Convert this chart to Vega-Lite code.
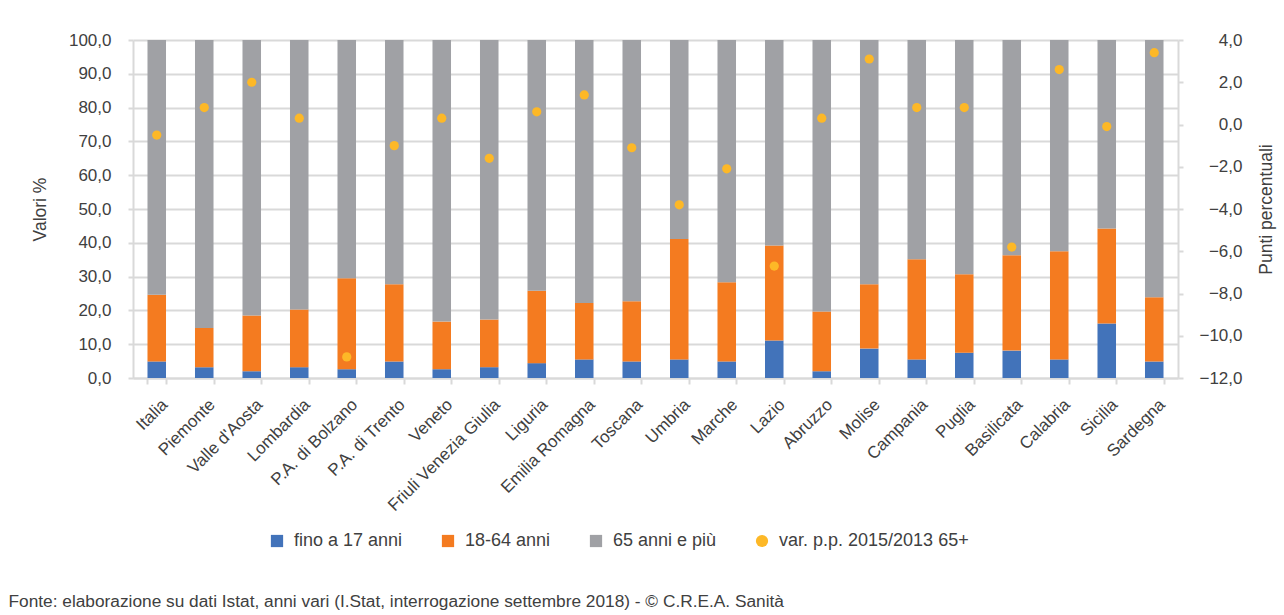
{
  "$schema": "https://vega.github.io/schema/vega-lite/v6.json",
  "width": 1045,
  "height": 338,
  "autosize": {"type": "none"},
  "padding": {"left": 133, "top": 40, "right": 106, "bottom": 237},
  "background": "white",
  "config": {
    "locale": {"number": {"decimal": ",", "thousands": ".", "grouping": [3], "currency": ["€", ""]}},
    "font": "Liberation Sans",
    "view": {"stroke": null},
    "axis": {
      "labelFont": "Liberation Sans",
      "titleFont": "Liberation Sans",
      "labelColor": "#404040",
      "titleColor": "#404040",
      "titleFontWeight": "normal",
      "domainColor": "#D9D9D9",
      "domainWidth": 2,
      "tickColor": "#D9D9D9",
      "tickWidth": 2,
      "gridColor": "#D9D9D9",
      "gridWidth": 2
    },
    "legend": {
      "orient": "none",
      "legendX": 135,
      "legendY": 492,
      "direction": "horizontal",
      "labelFont": "Liberation Sans",
      "labelFontSize": 18,
      "labelColor": "#404040",
      "labelLimit": 300,
      "symbolSize": 150,
      "symbolStrokeWidth": 0,
      "symbolOpacity": 1,
      "columnPadding": 36,
      "labelOffset": 8
    }
  },
  "datasets": {
    "fasce": [
      {"regione": "Italia", "serie": "fino a 17 anni", "ordine": 1, "valore": 4.9},
      {"regione": "Italia", "serie": "18-64 anni", "ordine": 2, "valore": 19.7},
      {"regione": "Italia", "serie": "65 anni e più", "ordine": 3, "valore": 75.4},
      {"regione": "Piemonte", "serie": "fino a 17 anni", "ordine": 1, "valore": 3.2},
      {"regione": "Piemonte", "serie": "18-64 anni", "ordine": 2, "valore": 11.6},
      {"regione": "Piemonte", "serie": "65 anni e più", "ordine": 3, "valore": 85.2},
      {"regione": "Valle d'Aosta", "serie": "fino a 17 anni", "ordine": 1, "valore": 2.0},
      {"regione": "Valle d'Aosta", "serie": "18-64 anni", "ordine": 2, "valore": 16.5},
      {"regione": "Valle d'Aosta", "serie": "65 anni e più", "ordine": 3, "valore": 81.5},
      {"regione": "Lombardia", "serie": "fino a 17 anni", "ordine": 1, "valore": 3.2},
      {"regione": "Lombardia", "serie": "18-64 anni", "ordine": 2, "valore": 17.1},
      {"regione": "Lombardia", "serie": "65 anni e più", "ordine": 3, "valore": 79.7},
      {"regione": "P.A. di Bolzano", "serie": "fino a 17 anni", "ordine": 1, "valore": 2.6},
      {"regione": "P.A. di Bolzano", "serie": "18-64 anni", "ordine": 2, "valore": 26.9},
      {"regione": "P.A. di Bolzano", "serie": "65 anni e più", "ordine": 3, "valore": 70.5},
      {"regione": "P.A. di Trento", "serie": "fino a 17 anni", "ordine": 1, "valore": 4.9},
      {"regione": "P.A. di Trento", "serie": "18-64 anni", "ordine": 2, "valore": 22.8},
      {"regione": "P.A. di Trento", "serie": "65 anni e più", "ordine": 3, "valore": 72.3},
      {"regione": "Veneto", "serie": "fino a 17 anni", "ordine": 1, "valore": 2.6},
      {"regione": "Veneto", "serie": "18-64 anni", "ordine": 2, "valore": 14.1},
      {"regione": "Veneto", "serie": "65 anni e più", "ordine": 3, "valore": 83.3},
      {"regione": "Friuli Venezia Giulia", "serie": "fino a 17 anni", "ordine": 1, "valore": 3.2},
      {"regione": "Friuli Venezia Giulia", "serie": "18-64 anni", "ordine": 2, "valore": 14.1},
      {"regione": "Friuli Venezia Giulia", "serie": "65 anni e più", "ordine": 3, "valore": 82.7},
      {"regione": "Liguria", "serie": "fino a 17 anni", "ordine": 1, "valore": 4.4},
      {"regione": "Liguria", "serie": "18-64 anni", "ordine": 2, "valore": 21.4},
      {"regione": "Liguria", "serie": "65 anni e più", "ordine": 3, "valore": 74.2},
      {"regione": "Emilia Romagna", "serie": "fino a 17 anni", "ordine": 1, "valore": 5.5},
      {"regione": "Emilia Romagna", "serie": "18-64 anni", "ordine": 2, "valore": 16.7},
      {"regione": "Emilia Romagna", "serie": "65 anni e più", "ordine": 3, "valore": 77.8},
      {"regione": "Toscana", "serie": "fino a 17 anni", "ordine": 1, "valore": 4.9},
      {"regione": "Toscana", "serie": "18-64 anni", "ordine": 2, "valore": 17.8},
      {"regione": "Toscana", "serie": "65 anni e più", "ordine": 3, "valore": 77.3},
      {"regione": "Umbria", "serie": "fino a 17 anni", "ordine": 1, "valore": 5.5},
      {"regione": "Umbria", "serie": "18-64 anni", "ordine": 2, "valore": 35.6},
      {"regione": "Umbria", "serie": "65 anni e più", "ordine": 3, "valore": 58.9},
      {"regione": "Marche", "serie": "fino a 17 anni", "ordine": 1, "valore": 4.9},
      {"regione": "Marche", "serie": "18-64 anni", "ordine": 2, "valore": 23.4},
      {"regione": "Marche", "serie": "65 anni e più", "ordine": 3, "valore": 71.7},
      {"regione": "Lazio", "serie": "fino a 17 anni", "ordine": 1, "valore": 11.1},
      {"regione": "Lazio", "serie": "18-64 anni", "ordine": 2, "valore": 28.1},
      {"regione": "Lazio", "serie": "65 anni e più", "ordine": 3, "valore": 60.8},
      {"regione": "Abruzzo", "serie": "fino a 17 anni", "ordine": 1, "valore": 2.0},
      {"regione": "Abruzzo", "serie": "18-64 anni", "ordine": 2, "valore": 17.7},
      {"regione": "Abruzzo", "serie": "65 anni e più", "ordine": 3, "valore": 80.3},
      {"regione": "Molise", "serie": "fino a 17 anni", "ordine": 1, "valore": 8.7},
      {"regione": "Molise", "serie": "18-64 anni", "ordine": 2, "valore": 19.0},
      {"regione": "Molise", "serie": "65 anni e più", "ordine": 3, "valore": 72.3},
      {"regione": "Campania", "serie": "fino a 17 anni", "ordine": 1, "valore": 5.5},
      {"regione": "Campania", "serie": "18-64 anni", "ordine": 2, "valore": 29.6},
      {"regione": "Campania", "serie": "65 anni e più", "ordine": 3, "valore": 64.9},
      {"regione": "Puglia", "serie": "fino a 17 anni", "ordine": 1, "valore": 7.5},
      {"regione": "Puglia", "serie": "18-64 anni", "ordine": 2, "valore": 23.2},
      {"regione": "Puglia", "serie": "65 anni e più", "ordine": 3, "valore": 69.3},
      {"regione": "Basilicata", "serie": "fino a 17 anni", "ordine": 1, "valore": 8.1},
      {"regione": "Basilicata", "serie": "18-64 anni", "ordine": 2, "valore": 28.2},
      {"regione": "Basilicata", "serie": "65 anni e più", "ordine": 3, "valore": 63.7},
      {"regione": "Calabria", "serie": "fino a 17 anni", "ordine": 1, "valore": 5.5},
      {"regione": "Calabria", "serie": "18-64 anni", "ordine": 2, "valore": 32.0},
      {"regione": "Calabria", "serie": "65 anni e più", "ordine": 3, "valore": 62.5},
      {"regione": "Sicilia", "serie": "fino a 17 anni", "ordine": 1, "valore": 16.1},
      {"regione": "Sicilia", "serie": "18-64 anni", "ordine": 2, "valore": 28.1},
      {"regione": "Sicilia", "serie": "65 anni e più", "ordine": 3, "valore": 55.8},
      {"regione": "Sardegna", "serie": "fino a 17 anni", "ordine": 1, "valore": 4.9},
      {"regione": "Sardegna", "serie": "18-64 anni", "ordine": 2, "valore": 19.0},
      {"regione": "Sardegna", "serie": "65 anni e più", "ordine": 3, "valore": 76.1}
    ],
    "variazione": [
      {"regione": "Italia", "serie": "var. p.p. 2015/2013 65+", "var": -0.5},
      {"regione": "Piemonte", "serie": "var. p.p. 2015/2013 65+", "var": 0.8},
      {"regione": "Valle d'Aosta", "serie": "var. p.p. 2015/2013 65+", "var": 2.0},
      {"regione": "Lombardia", "serie": "var. p.p. 2015/2013 65+", "var": 0.3},
      {"regione": "P.A. di Bolzano", "serie": "var. p.p. 2015/2013 65+", "var": -11.0},
      {"regione": "P.A. di Trento", "serie": "var. p.p. 2015/2013 65+", "var": -1.0},
      {"regione": "Veneto", "serie": "var. p.p. 2015/2013 65+", "var": 0.3},
      {"regione": "Friuli Venezia Giulia", "serie": "var. p.p. 2015/2013 65+", "var": -1.6},
      {"regione": "Liguria", "serie": "var. p.p. 2015/2013 65+", "var": 0.6},
      {"regione": "Emilia Romagna", "serie": "var. p.p. 2015/2013 65+", "var": 1.4},
      {"regione": "Toscana", "serie": "var. p.p. 2015/2013 65+", "var": -1.1},
      {"regione": "Umbria", "serie": "var. p.p. 2015/2013 65+", "var": -3.8},
      {"regione": "Marche", "serie": "var. p.p. 2015/2013 65+", "var": -2.1},
      {"regione": "Lazio", "serie": "var. p.p. 2015/2013 65+", "var": -6.7},
      {"regione": "Abruzzo", "serie": "var. p.p. 2015/2013 65+", "var": 0.3},
      {"regione": "Molise", "serie": "var. p.p. 2015/2013 65+", "var": 3.1},
      {"regione": "Campania", "serie": "var. p.p. 2015/2013 65+", "var": 0.8},
      {"regione": "Puglia", "serie": "var. p.p. 2015/2013 65+", "var": 0.8},
      {"regione": "Basilicata", "serie": "var. p.p. 2015/2013 65+", "var": -5.8},
      {"regione": "Calabria", "serie": "var. p.p. 2015/2013 65+", "var": 2.6},
      {"regione": "Sicilia", "serie": "var. p.p. 2015/2013 65+", "var": -0.1},
      {"regione": "Sardegna", "serie": "var. p.p. 2015/2013 65+", "var": 3.4}
    ]
  },
  "encoding": {
    "x": {
      "field": "regione",
      "type": "nominal",
      "sort": null,
      "scale": {"paddingInner": 0.61, "paddingOuter": 0.305},
      "axis": {
        "tickBand": "extent",
        "labelAngle": -45,
        "labelFontSize": 17,
        "labelPadding": 12,
        "labelOffset": 2,
        "tickSize": 6,
        "grid": false,
        "title": "Fonte: elaborazione su dati Istat, anni vari (I.Stat, interrogazione settembre 2018) - © C.R.E.A. Sanità",
        "titleX": -125,
        "titleY": 228,
        "titleAlign": "left",
        "titleAnchor": "start",
        "titleBaseline": "alphabetic",
        "titleAngle": 0,
        "titleFontSize": 17.3
      }
    }
  },
  "layer": [
    {
      "data": {"name": "fasce"},
      "mark": {"type": "bar"},
      "encoding": {
        "y": {
          "field": "valore",
          "type": "quantitative",
          "stack": "zero",
          "scale": {"domain": [0, 100], "nice": false},
          "axis": {
            "values": [0, 10, 20, 30, 40, 50, 60, 70, 80, 90, 100],
            "format": ".1f",
            "labelFontSize": 17,
            "tickSize": 5,
            "labelPadding": 17,
            "grid": true,
            "title": "Valori %",
            "titleFontSize": 17.5,
            "titlePadding": 19
          }
        },
        "order": {"field": "ordine", "type": "quantitative", "sort": "ascending"},
        "color": {
          "field": "serie",
          "type": "nominal",
          "scale": {
            "domain": ["fino a 17 anni", "18-64 anni", "65 anni e più", "var. p.p. 2015/2013 65+"],
            "range": ["#4273BA", "#F47B20", "#A0A1A5", "#FDB827"]
          },
          "legend": {"title": null}
        }
      }
    },
    {
      "data": {"name": "variazione"},
      "mark": {"type": "point", "filled": true, "size": 85, "opacity": 1},
      "encoding": {
        "y": {
          "field": "var",
          "type": "quantitative",
          "scale": {"domain": [-12, 4], "nice": false, "zero": false},
          "axis": {
            "orient": "right",
            "values": [-12, -10, -8, -6, -4, -2, 0, 2, 4],
            "format": ".1f",
            "labelFontSize": 17,
            "labelAlign": "right",
            "tickSize": 5,
            "labelPadding": 59,
            "grid": false,
            "title": "Punti percentuali",
            "titleAngle": 270,
            "titleBaseline": "top",
            "titleFontSize": 17.5,
            "titlePadding": 15
          }
        },
        "color": {
          "field": "serie",
          "type": "nominal",
          "scale": {
            "domain": ["fino a 17 anni", "18-64 anni", "65 anni e più", "var. p.p. 2015/2013 65+"],
            "range": ["#4273BA", "#F47B20", "#A0A1A5", "#FDB827"]
          },
          "legend": {"title": null}
        },
        "shape": {
          "field": "serie",
          "type": "nominal",
          "scale": {
            "domain": ["fino a 17 anni", "18-64 anni", "65 anni e più", "var. p.p. 2015/2013 65+"],
            "range": ["square", "square", "square", "circle"]
          },
          "legend": {"title": null}
        }
      }
    }
  ],
  "resolve": {"scale": {"y": "independent"}}
}
